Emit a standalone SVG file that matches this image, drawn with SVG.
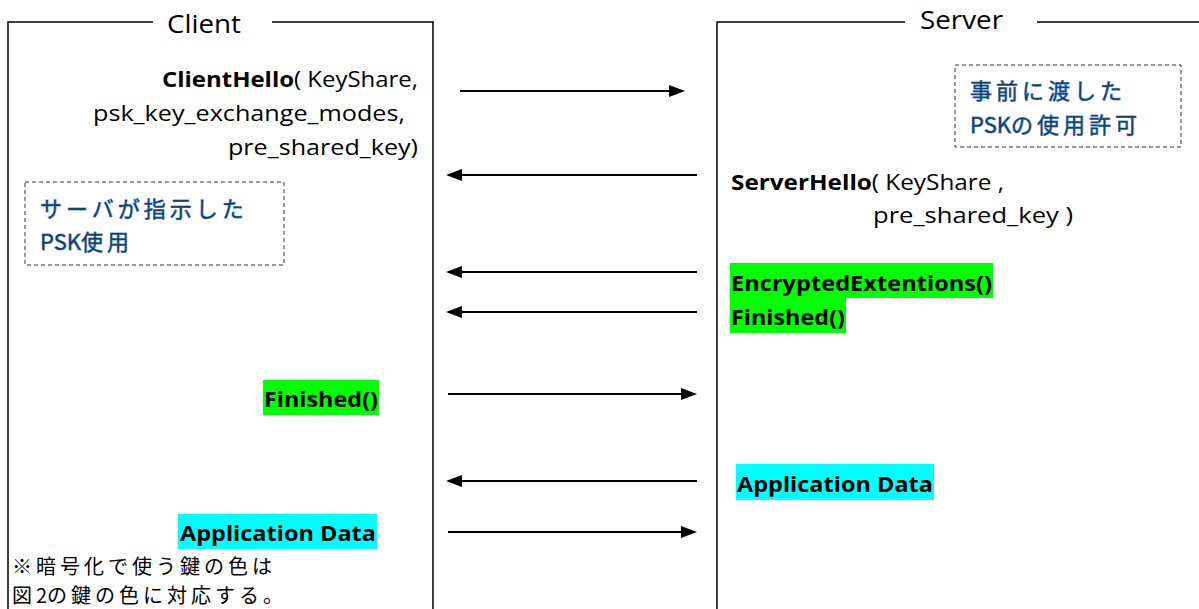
<svg xmlns="http://www.w3.org/2000/svg" width="1199" height="609" viewBox="0 0 1199 609">
<style>
.frame{fill:none;stroke:#000;stroke-width:1.5}
.t{font-family:"Open Sans","Liberation Sans",sans-serif;font-size:21px;fill:#000}
.b{font-weight:bold}
.hdr{font-family:"Open Sans","Liberation Sans",sans-serif;font-size:25px;fill:#000}
.jp{font-family:"Noto Sans CJK JP",sans-serif;font-size:20px;letter-spacing:4px;fill:#000}
.note{font-family:"Noto Sans CJK JP",sans-serif;font-size:22px;letter-spacing:4px;fill:#1a3f6b;stroke:#5ea2dc;stroke-width:0.9;paint-order:stroke}
.ls0{letter-spacing:0px}
.dash{fill:none;stroke:#333;stroke-width:1;stroke-dasharray:4 3}
.arr{stroke:#000;stroke-width:2;fill:none;marker-end:url(#ah)}
.g{fill:#00ff00}
.c{fill:#00ffff}
</style>
<defs>
<marker id="ah" markerWidth="16" markerHeight="12" refX="14" refY="6" orient="auto" markerUnits="userSpaceOnUse">
<path d="M0,0 L16,6 L0,12 Z" fill="#000"/>
</marker>
</defs>
<rect width="1199" height="609" fill="#fff"/>
<g id="client">
<path class="frame" d="M8,609 V22 H153 M272,22 H433 V609"/>
<text class="hdr" x="167" y="33" textLength="74" lengthAdjust="spacingAndGlyphs">Client</text>
</g>
<g id="server">
<path class="frame" d="M717,609 V22 H905 M1037,22 H1199"/>
<text class="hdr" x="920" y="29" textLength="83" lengthAdjust="spacingAndGlyphs">Server</text>
</g>
<g id="clienthello">
<text class="t" x="162" y="87" textLength="256" lengthAdjust="spacingAndGlyphs"><tspan class="b">ClientHello</tspan>( KeyShare,</text>
<text class="t" x="93" y="121" textLength="312" lengthAdjust="spacingAndGlyphs">psk_key_exchange_modes,</text>
<text class="t" x="228" y="155" textLength="190" lengthAdjust="spacingAndGlyphs">pre_shared_key)</text>
</g>
<g id="client-note">
<rect class="dash" x="25" y="182" width="259" height="83"/>
<text class="note" x="40" y="217">サーバが指示した</text>
<text class="note" x="40" y="250"><tspan class="ls0">PSK</tspan>使用</text>
</g>
<g id="server-note">
<rect class="dash" x="955" y="65" width="226" height="82"/>
<text class="note" x="970" y="99">事前に渡した</text>
<text class="note" x="970" y="133"><tspan class="ls0">PSK</tspan>の使用許可</text>
</g>
<g id="serverhello">
<text class="t" x="731" y="190" textLength="273" lengthAdjust="spacingAndGlyphs"><tspan class="b">ServerHello</tspan>( KeyShare ,</text>
<text class="t" x="873" y="223" textLength="200" lengthAdjust="spacingAndGlyphs">pre_shared_key )</text>
</g>
<g id="encext">
<rect class="g" x="730" y="263" width="263" height="35"/>
<rect class="g" x="730" y="298" width="116" height="35"/>
<text class="t b" x="731" y="291" textLength="261" lengthAdjust="spacingAndGlyphs">EncryptedExtentions()</text>
<text class="t b" x="731" y="325" textLength="114" lengthAdjust="spacingAndGlyphs">Finished()</text>
</g>
<g id="client-finished">
<rect class="g" x="263" y="380" width="116" height="35"/>
<text class="t b" x="264" y="407" textLength="114" lengthAdjust="spacingAndGlyphs">Finished()</text>
</g>
<g id="server-appdata">
<rect class="c" x="736" y="464" width="198" height="36"/>
<text class="t b" x="737" y="492" textLength="196" lengthAdjust="spacingAndGlyphs">Application Data</text>
</g>
<g id="client-appdata">
<rect class="c" x="178" y="514" width="199" height="35"/>
<text class="t b" x="180" y="541" textLength="196" lengthAdjust="spacingAndGlyphs">Application Data</text>
</g>
<g id="footnote">
<text class="jp" x="12" y="574">※暗号化で使う鍵の色は</text>
<text class="jp" x="12" y="603">図<tspan class="ls0">2</tspan>の鍵の色に対応する。</text>
</g>
<g id="connectors">
<line class="arr" x1="460" y1="91" x2="683" y2="91"/>
<line class="arr" x1="697" y1="175" x2="448" y2="175"/>
<line class="arr" x1="697" y1="272" x2="448" y2="272"/>
<line class="arr" x1="697" y1="312" x2="448" y2="312"/>
<line class="arr" x1="448" y1="394" x2="695" y2="394"/>
<line class="arr" x1="697" y1="481" x2="448" y2="481"/>
<line class="arr" x1="448" y1="532" x2="695" y2="532"/>
</g>
</svg>
